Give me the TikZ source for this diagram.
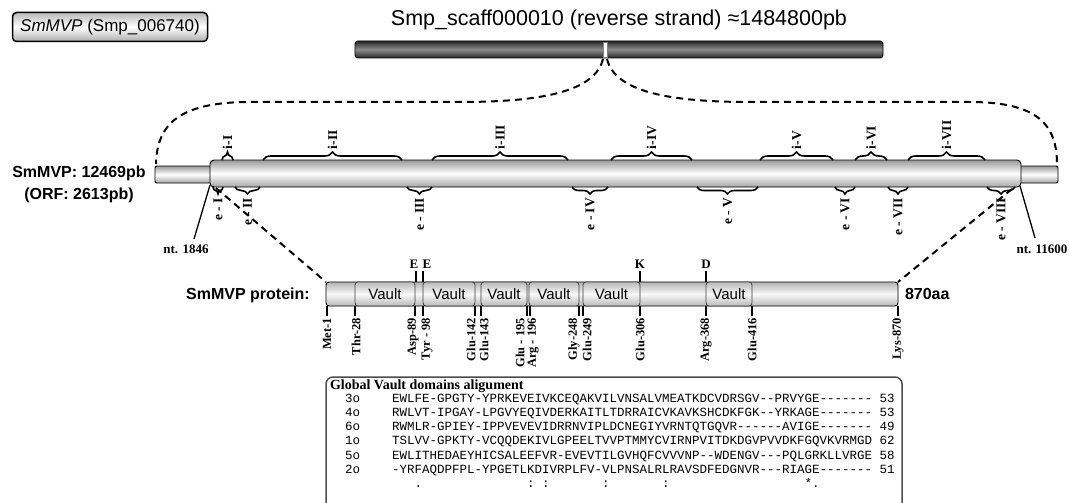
\documentclass[tikz,border=0pt]{standalone}
\usepackage{fontspec}
\setmainfont{Liberation Sans}
\setmonofont{Liberation Mono}
\newfontfamily\serifb{Liberation Serif}
\usetikzlibrary{decorations.pathreplacing}
\begin{document}
\begin{tikzpicture}[x=1pt,y=-1pt,
  every node/.style={inner sep=0pt, outer sep=0pt},
  hdrbox/.style={draw=black, line width=1.5pt, rounded corners=4pt, top color=gray!55, bottom color=gray!65, middle color=white, minimum width=195pt, minimum height=29pt},
  darkbar/.style={draw=black, line width=0.9pt, top color=black!85, bottom color=black!85, middle color=black!45},
  cyl/.style={draw=black, line width=0.9pt, top color=gray!80, bottom color=gray!70, middle color=white},
  pbar/.style={draw=black, line width=0.9pt, top color=gray!60, bottom color=gray!55, middle color=gray!5},
  vaultbox/.style={draw=black!75, line width=0.8pt, rounded corners=3pt, top color=gray!55, bottom color=gray!55, middle color=gray!5, font=\fontsize{15}{18}\selectfont},
  dashline/.style={line width=2pt, dash pattern=on 7pt off 5pt},
  ibrace/.style={decorate, decoration={brace, amplitude=8pt}, line width=1.6pt},
  ebrace/.style={decorate, decoration={brace, amplitude=7pt, mirror}, line width=1.6pt},
  rlab/.style={font=\serifb\bfseries\fontsize{13.5}{15}\selectfont, rotate=90},
  plab/.style={font=\serifb\bfseries\fontsize{12.5}{14}\selectfont, rotate=90},
  ntlab/.style={font=\serifb\bfseries\fontsize{13}{15}\selectfont},
  biglab/.style={font=\bfseries\fontsize{16}{19}\selectfont},
  seqfont/.style={font=\ttfamily\fontsize{12.5}{14}\selectfont},
  tick/.style={line width=1.3pt}
]
\useasboundingbox (0,0) rectangle (1069,503);
\clip (0,0) rectangle (1069,503);

% header box and title
\node[hdrbox] (hdr) at (110,27) {\fontsize{17}{20}\selectfont\textit{SmMVP} (Smp\_006740)};
\node[font=\fontsize{21.5}{25}\selectfont] (title) at (619,20) {Smp\_scaff000010 (reverse strand) ≈1484800pb};

% scaffold bar
\node[darkbar, rounded corners=3pt, minimum width=528pt, minimum height=17pt] (scaf) at (619,49.5) {};
\node[fill=white, draw=gray, line width=0.5pt, minimum width=4pt, minimum height=15pt] (mark) at (605,49.5) {};
\coordinate (mL) at (603,59);
\coordinate (mR) at (607,59);

% gene
\node[cyl, rounded corners=2pt, minimum width=903pt, minimum height=17pt] (gene) at (606.5,174.5) {};
\node[cyl, rounded corners=4pt, minimum width=811pt, minimum height=27pt] (orf) at (615.5,173.5) {};
\coordinate (geneL) at (156,164);
\coordinate (geneR) at (1057,164);

\draw[dashline] (mL) .. controls (595,92) and (540,102) .. (460,102) -- (250,102) .. controls (178,102) and (157,125) .. (geneL);
\draw[dashline] (mR) .. controls (615,92) and (670,102) .. (750,102) -- (970,102) .. controls (1038,102) and (1057,125) .. (geneR);

\node[biglab] (glab) at (79,173) {SmMVP: 12469pb};
\node[biglab] (orflab) at (79,195) {(ORF: 2613pb)};

% intron braces
\foreach \xa/\xb/\t [count=\k] in {222/233/I, 263/402/II, 432/568/III, 611/692/IV, 760/833/V, 855/887/VI, 908/985/VII} {
  \draw[ibrace] (\xa,160) -- (\xb,160);
  \node[rlab, anchor=west] (intron\k) at ({(\xa+\xb)/2},149) {i-\t};
}
% exon braces
\foreach \xa/\xb/\t [count=\k] in {213/223/I, 235/260/II, 407/432/III, 572/608/IV, 697/758/V, 835/855/VI, 888/908/VII, 987/1015/VIII} {
  \draw[ebrace] (\xa,187) -- (\xb,187);
  \node[rlab, anchor=east] (exon\k) at ({(\xa+\xb)/2},198) {e - \t};
}

% nt markers
\coordinate (ntAs) at (210,185);
\coordinate (ntAe) at (194,239);
\node[ntlab] (ntA) at (186,249) {nt. 1846};
\draw[line width=1.3pt] (ntAs) -- (ntAe);
\coordinate (ntBs) at (1020,186);
\coordinate (ntBe) at (1035,238);
\node[ntlab] (ntB) at (1042,249) {nt. 11600};
\draw[line width=1.3pt] (ntBs) -- (ntBe);

% protein
\node[pbar, rounded corners=3pt, minimum width=572pt, minimum height=24pt] (prot) at (612,294) {};
\coordinate (gL) at (216,188);
\coordinate (gR) at (1012,189);
\draw[dashline] (gL) -- (prot.north west);
\draw[dashline] (gR) -- (prot.north east);

\foreach \xa/\xb [count=\k] in {355/415, 423/475, 481/527, 529/579, 583/640, 706/752} {
  \pgfmathsetmacro\w{\xb-\xa}
  \node[vaultbox, minimum width=\w pt, minimum height=24pt] (vault\k) at ({(\xa+\xb)/2},294) {Vault};
}

\node[biglab] (plab) at (248,295) {SmMVP protein:};
\node[biglab, anchor=west] (aa) at (905,294) {870aa};

% ticks below protein
\foreach \tx/\lx/\t [count=\k] in {327/327/Met-1, 355/356/Thr-28, 415/413/Asp-89, 423/427/Tyr - 98, 475/471/Glu-142, 481/484/Glu-143, 527/520/Glu - 195, 530/533/Arg - 196, 579/574/Gly-248, 583/587/Glu-249, 640/640/Glu-306, 706/706/Arg-368, 752/752/Glu-416, 898/898/Lys-870} {
  \draw[tick] (\tx,306) -- (\tx,316);
  \node[plab, anchor=east] (res\k) at (\lx,318) {\t};
}
% ticks above protein
\foreach \tx/\lx/\t [count=\k] in {416/414/E, 423/427/E, 640/640/K, 706/706/D} {
  \draw[tick] (\tx,282) -- (\tx,271);
  \node[ntlab, anchor=base] (mut\k) at (\lx,268) {\t};
}

% alignment box
\node[draw=gray!60!black, line width=1.5pt, rounded corners=7pt, minimum width=576pt, minimum height=160pt, anchor=north west] (abox) at (326,377) {};
\node[font=\serifb\bfseries\fontsize{14}{16}\selectfont, anchor=base west] (ahead) at (330,389.5) {Global Vault domains aligument};

\foreach \lab/\seq/\n/\yy [count=\k] in {
  3o/EWLFE-GPGTY-YPRKEVEIVKCEQAKVILVNSALVMEATKDCVDRSGV--PRVYGE-------/53/402.5,
  4o/RWLVT-IPGAY-LPGVYEQIVDERKAITLTDRRAICVKAVKSHCDKFGK--YRKAGE-------/53/416.5,
  6o/RWMLR-GPIEY-IPPVEVEVIDRRNVIPLDCNEGIYVRNTQTGQVR------AVIGE-------/49/430.5,
  1o/TSLVV-GPKTY-VCQQDEKIVLGPEELTVVPTMMYCVIRNPVITDKDGVPVVDKFGQVKVRMGD/62/444.5,
  5o/EWLITHEDAEYHICSALEEFVR-EVEVTILGVHQFCVVVNP--WDENGV---PQLGRKLLVRGE/58/459,
  2o/-YRFAQDPFPL-YPGETLKDIVRPLFV-VLPNSALRLRAVSDFEDGNVR---RIAGE-------/51/473} {
  \node[seqfont, anchor=base west] (rl\k) at (345,\yy) {\lab};
  \node[seqfont, anchor=base west] (seq\k) at (392,\yy) {\seq\ \n};
}
\foreach \c/\m [count=\k] in {3/., 18/:, 20/:, 28/:, 36/:, 55/*, 56/.} {
  \node[seqfont, anchor=base] (cons\k) at ({392+(\c+0.5)*7.5},487) {\m};
}
\end{tikzpicture}
\end{document}
